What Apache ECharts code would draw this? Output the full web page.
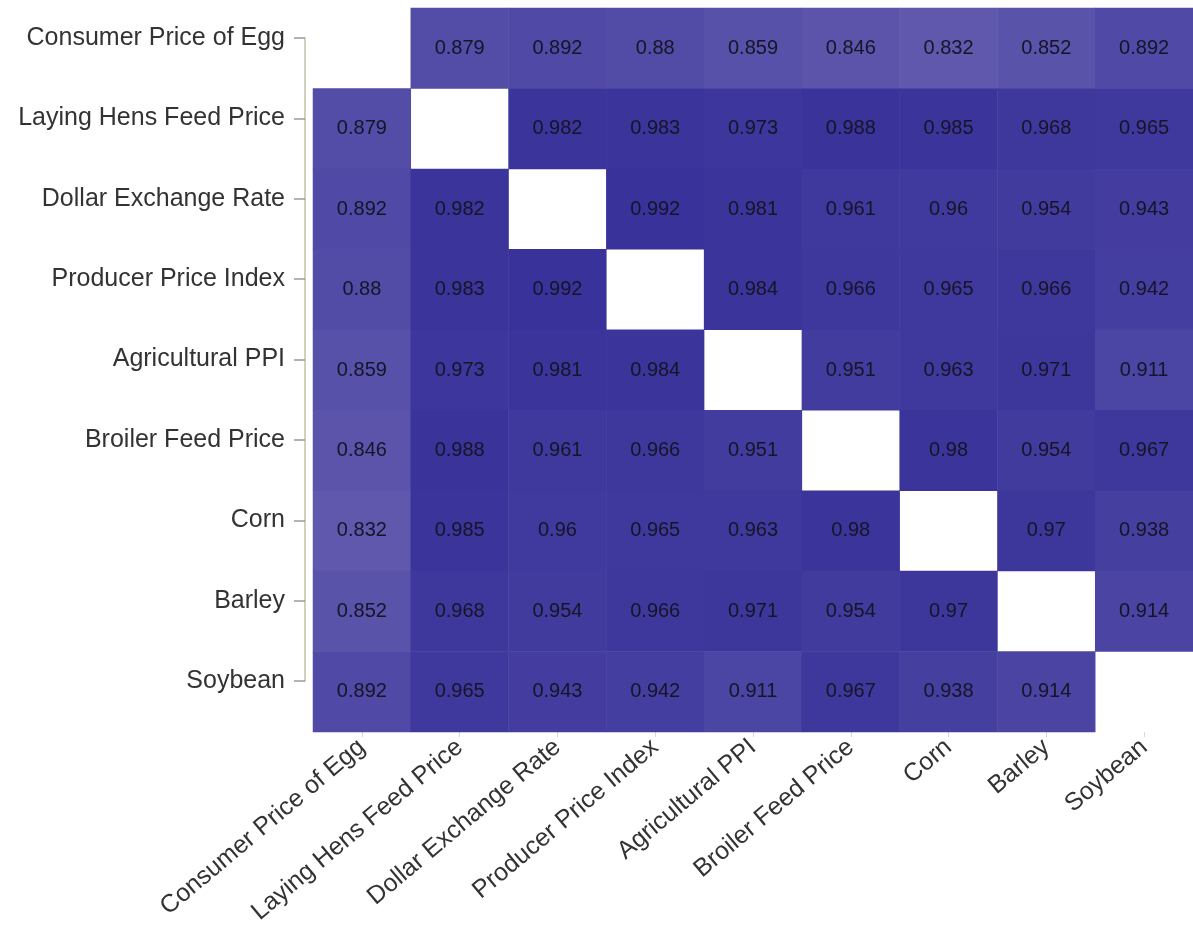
<!DOCTYPE html>
<html>
<head>
<meta charset="utf-8">
<script src="https://cdn.jsdelivr.net/npm/echarts@6/dist/echarts.min.js"></script>
<style>
html,body{margin:0;padding:0;background:#fff;}
#c{width:1193px;height:930px;}
</style>
</head>
<body>
<div id="c"></div>
<script>
var categories = ["Consumer Price of Egg","Laying Hens Feed Price","Dollar Exchange Rate","Producer Price Index","Agricultural PPI","Broiler Feed Price","Corn","Barley","Soybean"];
var rowConsumerEgg   = [null, 0.879, 0.892, 0.88, 0.859, 0.846, 0.832, 0.852, 0.892];
var rowLayingHens    = [0.879, null, 0.982, 0.983, 0.973, 0.988, 0.985, 0.968, 0.965];
var rowDollar        = [0.892, 0.982, null, 0.992, 0.981, 0.961, 0.96, 0.954, 0.943];
var rowPPI           = [0.88, 0.983, 0.992, null, 0.984, 0.966, 0.965, 0.966, 0.942];
var rowAgriPPI       = [0.859, 0.973, 0.981, 0.984, null, 0.951, 0.963, 0.971, 0.911];
var rowBroiler       = [0.846, 0.988, 0.961, 0.966, 0.951, null, 0.98, 0.954, 0.967];
var rowCorn          = [0.832, 0.985, 0.96, 0.965, 0.963, 0.98, null, 0.97, 0.938];
var rowBarley        = [0.852, 0.968, 0.954, 0.966, 0.971, 0.954, 0.97, null, 0.914];
var rowSoybean       = [0.892, 0.965, 0.943, 0.942, 0.911, 0.967, 0.938, 0.914, null];
var rows = [rowConsumerEgg,rowLayingHens,rowDollar,rowPPI,rowAgriPPI,rowBroiler,rowCorn,rowBarley,rowSoybean];

var data = [];
rows.forEach(function(r, yi){
  r.forEach(function(v, xi){
    if (v !== null) data.push([xi, yi, v]);
  });
});

var font = 'Liberation Sans, Arial, sans-serif';
var chart = echarts.init(document.getElementById('c'));
chart.setOption({
  animation: false,
  backgroundColor: '#ffffff',
  grid: [
    {left: 313, top: 8, width: 882, height: 724},
    {left: 305, top: 38, width: 10, height: 643}
  ],
  xAxis: [
    {
      type: 'category', data: categories, gridIndex: 0,
      axisLine: {show: false},
      axisTick: {show: true, alignWithLabel: true, length: 5, lineStyle: {color: '#d8d8d8'}},
      axisLabel: {rotate: 40, margin: 12, fontSize: 25, color: '#333', fontFamily: font, interval: 0},
      splitLine: {show: false}
    },
    {type: 'category', data: categories, gridIndex: 1, show: false}
  ],
  yAxis: [
    {
      type: 'category', data: categories, gridIndex: 0, inverse: true,
      axisLine: {show: false}, axisTick: {show: false}, axisLabel: {show: false}
    },
    {
      type: 'category', data: categories, gridIndex: 1, inverse: true, boundaryGap: false,
      axisLine: {show: true, lineStyle: {color: '#c2bfa8', width: 1.5}},
      axisTick: {show: true, length: 11, lineStyle: {color: '#9a9a9a', width: 1.5}},
      axisLabel: {margin: 20, fontSize: 25, color: '#333', fontFamily: font, interval: 0},
      splitLine: {show: false}
    }
  ],
  visualMap: {
    show: false, type: 'continuous', min: 0.83, max: 0.992, dimension: 2,
    inRange: {color: ['#5f58ac', '#38329a']}
  },
  series: [{
    type: 'heatmap',
    xAxisIndex: 0, yAxisIndex: 0,
    data: data,
    label: {
      show: true, fontSize: 20, color: '#151525', fontFamily: font,
      formatter: function(p){ return String(p.value[2]); }
    },
    itemStyle: {borderWidth: 0}
  }]
});
</script>
</body>
</html>
